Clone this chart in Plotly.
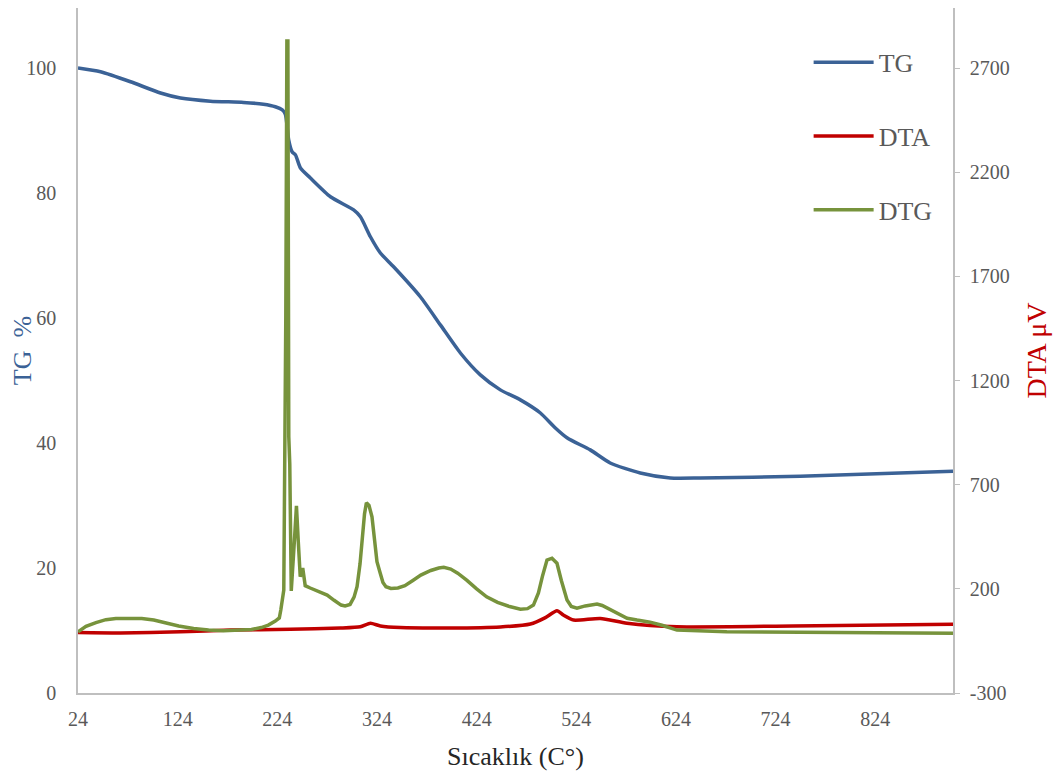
import plotly.graph_objects as go

# ---- data ----
tg_T = [24, 46.6, 76.7, 106.8, 126.8, 156.9, 190, 210, 222, 229, 232.1, 235.4, 238.8, 242.2,
        247.2, 257.2, 277.3, 300.6, 307.4, 317.4, 327.4, 340.7, 367.5, 387.6, 407.7, 427.7,
        447.8, 467.9, 488, 503, 515, 538, 558, 588.2, 618.3, 648.4, 748.7, 902]
tg_val = [100, 99.4, 97.8, 96, 95.2, 94.7, 94.5, 94.2, 93.8, 93.3, 92.6, 88.5, 86.6, 86.1,
          84, 82.4, 79.4, 77.3, 76.2, 73, 70.4, 68.2, 63.4, 58.9, 54.4, 50.9,
          48.5, 46.9, 44.8, 42.4, 40.8, 38.9, 36.8, 35.2, 34.4, 34.4, 34.7, 35.5]

dta_T = [24, 66.6, 126.8, 176.9, 237.1, 287.3, 307.3, 317.4, 327.4, 347.5, 397.6, 447.8,
         477.9, 493, 504.6, 511, 521.3, 548.1, 574.9, 625, 741.7, 902]
dta_val = [-10, -12, -6, 2, 6, 12, 18, 35, 22, 14, 12, 17,
           31, 62, 95, 74, 50, 58, 35, 18, 22, 30]

dtg_T = [24, 32, 42, 52, 62, 75, 88, 100, 112, 125, 140, 155, 170, 185, 198, 208, 215, 222,
         226, 227.5, 230.5, 232.5, 233.6, 234.6, 235.5, 236.5, 238, 241, 243.2, 245, 247,
         249.5, 252, 257, 265, 274, 281, 288, 292, 297, 301, 304, 307, 309, 311.5, 313.4,
         316, 319, 321.5, 324, 327, 330, 333, 338, 345, 352, 360, 368, 378, 386, 391, 398,
         405, 414, 424, 434, 445, 457, 468, 475, 481, 486, 490, 494.6, 499.6, 504.6, 509,
         514.7, 519, 524.7, 533, 544.8, 550, 555, 562, 570, 575, 585, 598, 610, 620, 625,
         675, 775, 902]
dtg_val = [-6, 20, 38, 52, 58, 60, 58, 50, 36, 22, 10, 2, -1, 0, 5, 14, 26, 45,
           60, 98, 194, 1500, 2830, 2830, 930, 800, 190, 420, 598, 430, 258,
           300, 215, 204, 190, 170, 145, 122, 118, 125, 160, 210, 320, 434, 560, 613,
           600, 546, 440, 330, 280, 230, 210, 202, 204, 215, 240, 266, 288, 300, 303, 295,
           275, 242, 200, 162, 135, 115, 102, 105, 122, 180, 260, 338, 347, 323, 240,
           146, 115, 107, 118, 127, 120, 107, 90, 70, 59, 50, 40, 25, 8, 2,
           -6, -9, -13]

x_ticks = [24, 124, 224, 324, 424, 524, 624, 724, 824]
tg_ticks = [0, 20, 40, 60, 80, 100]
dta_ticks = [-300, 200, 700, 1200, 1700, 2200, 2700]
dta_ticktext = ["-300", "200", "700", "1200", "1700", "2200", "2700"]

BLUE = "#3B6296"
RED = "#C00000"
GREEN = "#77933C"
FONT = "Liberation Serif"
TICKC = "#595959"
AXC = "#BFBFBF"

fig = go.Figure()
fig.add_trace(go.Scatter(x=tg_T, y=tg_val, name="TG", mode="lines",
                         line=dict(color=BLUE, width=3.5, shape="spline", smoothing=0.6),
                         legendgroup="a", yaxis="y"))
fig.add_trace(go.Scatter(x=dta_T, y=dta_val, name="DTA", mode="lines",
                         line=dict(color=RED, width=3.5, shape="spline", smoothing=0.6),
                         legendgroup="b", yaxis="y2"))
fig.add_trace(go.Scatter(x=dtg_T, y=dtg_val, name="DTG", mode="lines",
                         line=dict(color=GREEN, width=3.5),
                         legendgroup="c", yaxis="y2"))

fig.update_layout(
    width=1055, height=767,
    margin=dict(l=70, r=110, t=0, b=82, autoexpand=False),
    paper_bgcolor="white", plot_bgcolor="white",
    font=dict(family=FONT, color=TICKC, size=20),
    showlegend=True,
    legend=dict(x=0.835, y=0.955, xanchor="left", yanchor="top",
                font=dict(family=FONT, size=26, color=TICKC),
                tracegroupgap=37, itemwidth=60, bgcolor="rgba(0,0,0,0)"),
    xaxis=dict(range=[24, 902], tickmode="array", tickvals=x_ticks,
               showline=True, linecolor=AXC, linewidth=1.5,
               ticks="outside", ticklen=7, tickcolor="rgba(0,0,0,0)",
               showgrid=False, zeroline=False, automargin=False,
               tickfont=dict(family=FONT, size=20, color=TICKC),
               title=dict(text="Sıcaklık (C°)", font=dict(family=FONT, size=26, color="#262626"),
                          standoff=18)),
    yaxis=dict(range=[0, 109.6], tickmode="array", tickvals=tg_ticks,
               showline=True, linecolor=AXC, linewidth=1.5,
               ticks="outside", ticklen=16, tickcolor="rgba(0,0,0,0)",
               showgrid=False, zeroline=False, automargin=False,
               tickfont=dict(family=FONT, size=20, color=TICKC),
               title=dict(text="TG  %", font=dict(family=FONT, size=26, color=BLUE),
                          standoff=12)),
    yaxis2=dict(range=[-300, 2988], tickmode="array", tickvals=dta_ticks,
                ticktext=dta_ticktext,
                overlaying="y", side="right",
                showline=True, linecolor=AXC, linewidth=1.5,
                ticks="outside", ticklen=5, tickcolor=AXC, ticklabelstandoff=6,
                showgrid=False, zeroline=False, automargin=False,
                tickfont=dict(family=FONT, size=20, color=TICKC),
                title=dict(text="DTA μV", font=dict(family=FONT, size=28, color=RED),
                           standoff=18)),
)

fig.write_html("out.html")
